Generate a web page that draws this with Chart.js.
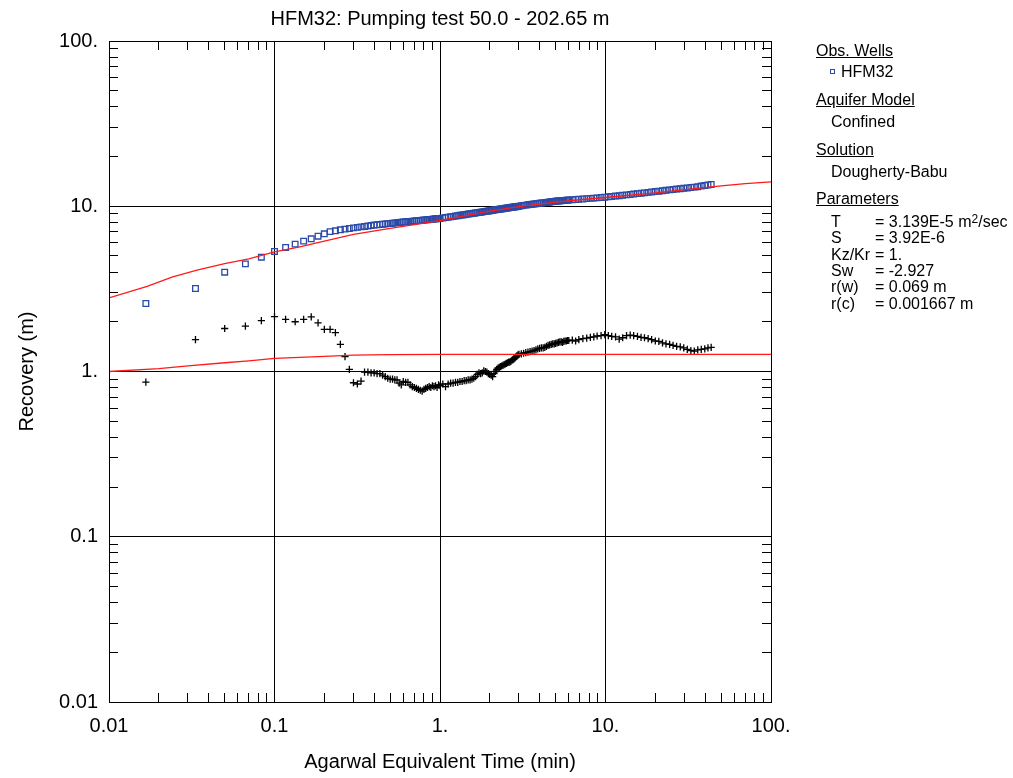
<!DOCTYPE html>
<html><head><meta charset="utf-8">
<script src="https://cdn.jsdelivr.net/npm/chart.js@4.4.1/dist/chart.umd.min.js"></script>
<style>
html,body{margin:0;padding:0;background:#fff;overflow:hidden;}
#wrap{position:relative;width:1013px;height:778px;overflow:hidden;font-family:"Liberation Sans",Arial,sans-serif;color:#000;background:#fff;}
#c{position:absolute;left:0;top:0;}
.lg{position:absolute;font-size:16px;line-height:16px;white-space:nowrap;}
.u{text-decoration:underline;}
.mk{position:absolute;width:5px;height:5px;border:1px solid #2a4aa8;box-sizing:border-box;}
sup.s{font-size:12px;vertical-align:baseline;position:relative;top:-4px;}
</style></head><body>
<div id="wrap">
<canvas id="c" width="1013" height="778"></canvas>
<div class="lg u" style="left:816px;top:42.5px">Obs. Wells</div>
<div class="mk" style="left:830px;top:69px"></div>
<div class="lg" style="left:841px;top:64px">HFM32</div>
<div class="lg u" style="left:816px;top:92px">Aquifer Model</div>
<div class="lg" style="left:831px;top:114px">Confined</div>
<div class="lg u" style="left:816px;top:141.5px">Solution</div>
<div class="lg" style="left:831px;top:164px">Dougherty-Babu</div>
<div class="lg u" style="left:816px;top:191px">Parameters</div>
<div class="lg" style="left:831px;top:214px">T</div><div class="lg" style="left:875px;top:214px">= 3.139E-5 m<sup class="s">2</sup>/sec</div>
<div class="lg" style="left:831px;top:230.4px">S</div><div class="lg" style="left:875px;top:230.4px">= 3.92E-6</div>
<div class="lg" style="left:831px;top:246.7px">Kz/Kr</div><div class="lg" style="left:875px;top:246.7px">= 1.</div>
<div class="lg" style="left:831px;top:263px">Sw</div><div class="lg" style="left:875px;top:263px">= -2.927</div>
<div class="lg" style="left:831px;top:279.4px">r(w)</div><div class="lg" style="left:875px;top:279.4px">= 0.069 m</div>
<div class="lg" style="left:831px;top:295.7px">r(c)</div><div class="lg" style="left:875px;top:295.7px">= 0.001667 m</div>
</div>
<script>
// ---- data ----
const times = [
 0.0167, 0.0333, 0.05, 0.0667, 0.0833, 0.1, 0.1167, 0.1333, 0.15, 0.1667, 0.1833, 0.2,
 0.2167, 0.2333, 0.25, 0.2667, 0.2833, 0.3, 0.3167, 0.3333, 0.35, 0.3667, 0.3833, 0.4,
 0.4167, 0.4333, 0.45, 0.4667, 0.4833, 0.5, 0.5167, 0.5333, 0.55, 0.5667, 0.5833, 0.6,
 0.62, 0.64, 0.66, 0.68, 0.7, 0.72, 0.74, 0.76, 0.78, 0.8, 0.82, 0.84, 0.86, 0.88, 0.9, 0.92, 0.94, 0.96, 0.98, 1.0,
 1.04, 1.08, 1.12, 1.16, 1.2, 1.24, 1.28, 1.32, 1.36, 1.4, 1.44, 1.48, 1.52, 1.56, 1.6, 1.64, 1.68, 1.72, 1.76, 1.8,
 1.84, 1.88, 1.92, 1.96, 2.0, 2.04, 2.08, 2.12, 2.16, 2.2, 2.24, 2.28, 2.32, 2.36, 2.4, 2.44, 2.48, 2.52, 2.56, 2.6,
 2.64, 2.68, 2.72, 2.76, 2.8, 2.84, 2.88, 2.92, 2.96, 3.0,
 3.1, 3.2, 3.3, 3.4, 3.5, 3.6, 3.7, 3.8, 3.9, 4.0, 4.1, 4.2, 4.3, 4.4, 4.5, 4.6, 4.7, 4.8, 4.9, 5.0,
 5.1, 5.2, 5.3, 5.4, 5.5, 5.6, 5.7, 5.8, 5.9, 6.0,
 6.3, 6.6, 6.9, 7.3, 7.7, 8.1, 8.5, 8.9, 9.4, 9.9, 10.4, 10.9, 11.5, 12.1, 12.7, 13.4, 14.1, 14.8, 15.6, 16.4,
 17.2, 18.1, 19.0, 20.0, 21.0, 22.1, 23.2, 24.4, 25.6, 26.9, 28.3, 29.7, 31.2, 32.8, 34.4, 36.1, 37.9, 39.8, 41.6, 43.5
];
const recovery = [
 2.58, 3.18, 3.99, 4.48, 4.92, 5.33, 5.63, 5.90, 6.15, 6.35, 6.59, 6.81,
 7.02, 7.10, 7.20, 7.27, 7.33, 7.40, 7.45, 7.50, 7.55, 7.59, 7.64, 7.69,
 7.72, 7.75, 7.79, 7.82, 7.85, 7.87, 7.90, 7.93, 7.95, 7.97, 8.00, 8.02,
 8.05, 8.08, 8.10, 8.12, 8.14, 8.16, 8.19, 8.21, 8.23, 8.25, 8.27, 8.29, 8.31, 8.33, 8.35, 8.37, 8.39, 8.41, 8.43, 8.44,
 8.49, 8.54, 8.59, 8.64, 8.68, 8.73, 8.77, 8.81, 8.85, 8.89, 8.93, 8.97, 9.01, 9.04, 9.08, 9.11, 9.15, 9.18, 9.21, 9.24,
 9.28, 9.31, 9.34, 9.37, 9.40, 9.43, 9.45, 9.48, 9.51, 9.54, 9.56, 9.59, 9.62, 9.64, 9.67, 9.69, 9.72, 9.74, 9.76, 9.79,
 9.81, 9.83, 9.86, 9.88, 9.90, 9.92, 9.94, 9.96, 9.98, 10.01,
 10.07, 10.12, 10.16, 10.20, 10.24, 10.27, 10.31, 10.35, 10.38, 10.42, 10.45, 10.48, 10.52, 10.55, 10.58, 10.61, 10.64, 10.67, 10.70, 10.73,
 10.75, 10.77, 10.78, 10.80, 10.82, 10.84, 10.85, 10.87, 10.89, 10.90,
 10.94, 10.98, 11.02, 11.07, 11.12, 11.16, 11.20, 11.24, 11.29, 11.34, 11.40, 11.46, 11.52, 11.59, 11.65, 11.72, 11.78, 11.85, 11.92, 11.98,
 12.05, 12.13, 12.20, 12.27, 12.34, 12.42, 12.48, 12.56, 12.64, 12.70, 12.77, 12.84, 12.91, 12.98, 13.05, 13.13, 13.25, 13.37, 13.46, 13.55
];
const derivative = [
 0.863, 1.56, 1.82, 1.88, 2.03, 2.15, 2.07, 2.00, 2.07, 2.14, 1.97, 1.80,
 1.80, 1.72, 1.46, 1.23, 1.03, 0.855, 0.84, 0.875, 0.99, 0.99, 0.98, 0.98,
 0.97, 0.97, 0.95, 0.93, 0.91, 0.90, 0.90, 0.89, 0.89, 0.85, 0.83, 0.87,
 0.86, 0.86, 0.83, 0.81, 0.80, 0.79, 0.78, 0.77, 0.76, 0.78, 0.79, 0.80, 0.81, 0.80, 0.82, 0.81, 0.82, 0.80, 0.83, 0.82,
 0.84, 0.81, 0.84, 0.85, 0.85, 0.86, 0.86, 0.87, 0.87, 0.88, 0.88, 0.89, 0.89, 0.90, 0.91, 0.93, 0.96, 0.98, 0.97, 0.98,
 1.01, 1.00, 0.99, 0.97, 0.96, 0.95, 0.93, 0.97, 1.00, 1.03, 1.05, 1.06, 1.07, 1.08, 1.09, 1.10, 1.11, 1.12, 1.13, 1.14,
 1.14, 1.15, 1.17, 1.18, 1.19, 1.21, 1.23, 1.25, 1.26, 1.27,
 1.28, 1.29, 1.30, 1.31, 1.32, 1.33, 1.34, 1.35, 1.37, 1.38, 1.39, 1.39, 1.40, 1.42, 1.44, 1.45, 1.46, 1.47, 1.47, 1.48,
 1.49, 1.50, 1.51, 1.51, 1.50, 1.52, 1.53, 1.53, 1.54, 1.54,
 1.55, 1.53, 1.56, 1.58, 1.59, 1.61, 1.62, 1.64, 1.65, 1.67, 1.65, 1.63, 1.62, 1.57, 1.60, 1.65, 1.66, 1.65, 1.63, 1.61,
 1.60, 1.58, 1.56, 1.53, 1.52, 1.49, 1.47, 1.46, 1.44, 1.42, 1.41, 1.39, 1.36, 1.34, 1.33, 1.35, 1.36, 1.37, 1.39, 1.40
];
const fitTimes = [0.01, 0.017, 0.024, 0.034, 0.05, 0.07, 0.1, 0.14, 0.2, 0.3, 0.5, 0.7, 1, 2, 3, 5, 7, 10, 20, 30, 50, 70, 100];
const fitRecovery = [2.79, 3.27, 3.72, 4.10, 4.50, 4.80, 5.30, 5.65, 6.15, 6.75, 7.35, 7.75, 8.2, 9.35, 9.95, 10.6, 10.95, 11.3, 12.05, 12.6, 13.3, 13.7, 14.05];
const fitDerivTimes = [0.01, 0.02, 0.03, 0.05, 0.07, 0.1, 0.2, 0.3, 0.5, 1, 10, 100];
const fitDerivative = [1.0, 1.04, 1.08, 1.13, 1.16, 1.2, 1.235, 1.255, 1.265, 1.27, 1.27, 1.27];

const axisTicks = [0.01, 0.1, 1, 10, 100];
const xTickLabels = ['0.01', '0.1', '1.', '10.', '100.'];
const yTickLabels = ['0.01', '0.1', '1.', '10.', '100.'];
const minorMultipliers = [2, 3, 4, 5, 6, 7, 8, 9];

const FONT = '"Liberation Sans", Arial, sans-serif';
const pts = (xs, ys) => xs.map((x, i) => ({x: x, y: ys[i]}));
const align = p => Math.round(p - 0.5) + 0.5;

const framePlugin = {
  id: 'frameTicks',
  afterDraw(chart) {
    const {ctx, chartArea: a, scales: {x, y}} = chart;
    ctx.save();
    ctx.strokeStyle = '#000';
    ctx.lineWidth = 1;
    ctx.beginPath();
    for (let i = 0; i < axisTicks.length - 1; i++) {
      for (const m of minorMultipliers) {
        const v = axisTicks[i] * m;
        const px = align(x.getPixelForValue(v));
        ctx.moveTo(px, a.bottom); ctx.lineTo(px, a.bottom - 9);
        ctx.moveTo(px, a.top); ctx.lineTo(px, a.top + 9);
        const py = align(y.getPixelForValue(v));
        ctx.moveTo(a.left, py); ctx.lineTo(a.left + 9, py);
        ctx.moveTo(a.right, py); ctx.lineTo(a.right - 9, py);
      }
    }
    ctx.stroke();
    const l = align(a.left), r = align(a.right), t = align(a.top), b = align(a.bottom);
    ctx.strokeRect(l, t, r - l, b - t);
    ctx.restore();
  }
};

const axisCommon = (labels, fit) => ({
  type: 'logarithmic', min: 0.01, max: 100,
  afterBuildTicks: s => { s.ticks = axisTicks.map(v => ({value: v})); },
  afterFit: fit,
  grid: { color: '#000', lineWidth: 1, drawTicks: false },
  border: { display: true, color: '#000', width: 1 },
  ticks: { autoSkip: false, maxRotation: 0, minRotation: 0, color: '#000',
           font: { family: FONT, size: 20 }, callback: (v, i) => labels[i] }
});

const xAxis = axisCommon(xTickLabels, s => { s.height = 76; });
xAxis.position = 'bottom';
xAxis.ticks.padding = 12;
xAxis.title = { display: true, text: 'Agarwal Equivalent Time (min)', color: '#000',
  font: { family: FONT, size: 20 }, padding: { top: 4, bottom: 4 } };

const yAxis = axisCommon(yTickLabels, s => { s.width = 109; });
yAxis.position = 'left';
yAxis.ticks.padding = 11;
yAxis.title = { display: true, text: 'Recovery (m)', color: '#000',
  font: { family: FONT, size: 20 }, padding: { top: 15, bottom: 0 } };

new Chart(document.getElementById('c'), {
  type: 'scatter',
  data: {
    datasets: [
      { label: 'Dougherty-Babu', data: pts(fitTimes, fitRecovery), showLine: true,
        borderColor: '#ff1a1a', borderWidth: 1.3, pointRadius: 0, fill: false, tension: 0 },
      { label: 'Dougherty-Babu derivative', data: pts(fitDerivTimes, fitDerivative), showLine: true,
        borderColor: '#ff1a1a', borderWidth: 1.3, pointRadius: 0, fill: false, tension: 0 },
      { label: 'HFM32', data: pts(times, recovery), showLine: false, pointStyle: 'rect',
        pointRadius: 4, pointBorderWidth: 1.3, borderColor: '#2a4aa8', pointBorderColor: '#2a4aa8',
        backgroundColor: 'rgba(0,0,0,0)', pointBackgroundColor: 'rgba(0,0,0,0)' },
      { label: 'HFM32 derivative', data: pts(times, derivative), showLine: false, pointStyle: 'cross',
        pointRadius: 3.6, pointBorderWidth: 1.3, borderColor: '#000', pointBorderColor: '#000' }
    ]
  },
  options: {
    responsive: false,
    animation: false,
    devicePixelRatio: 1,
    events: [],
    layout: { padding: { left: 0, right: 242, top: 0, bottom: 0 } },
    plugins: {
      legend: { display: false },
      tooltip: { enabled: false },
      title: { display: true, text: 'HFM32: Pumping test 50.0 - 202.65 m', fullSize: false,
        color: '#000', font: { family: FONT, size: 20, weight: 'normal' }, padding: { top: 7, bottom: 10 } }
    },
    scales: { x: xAxis, y: yAxis }
  },
  plugins: [framePlugin]
});
</script>
</body></html>
